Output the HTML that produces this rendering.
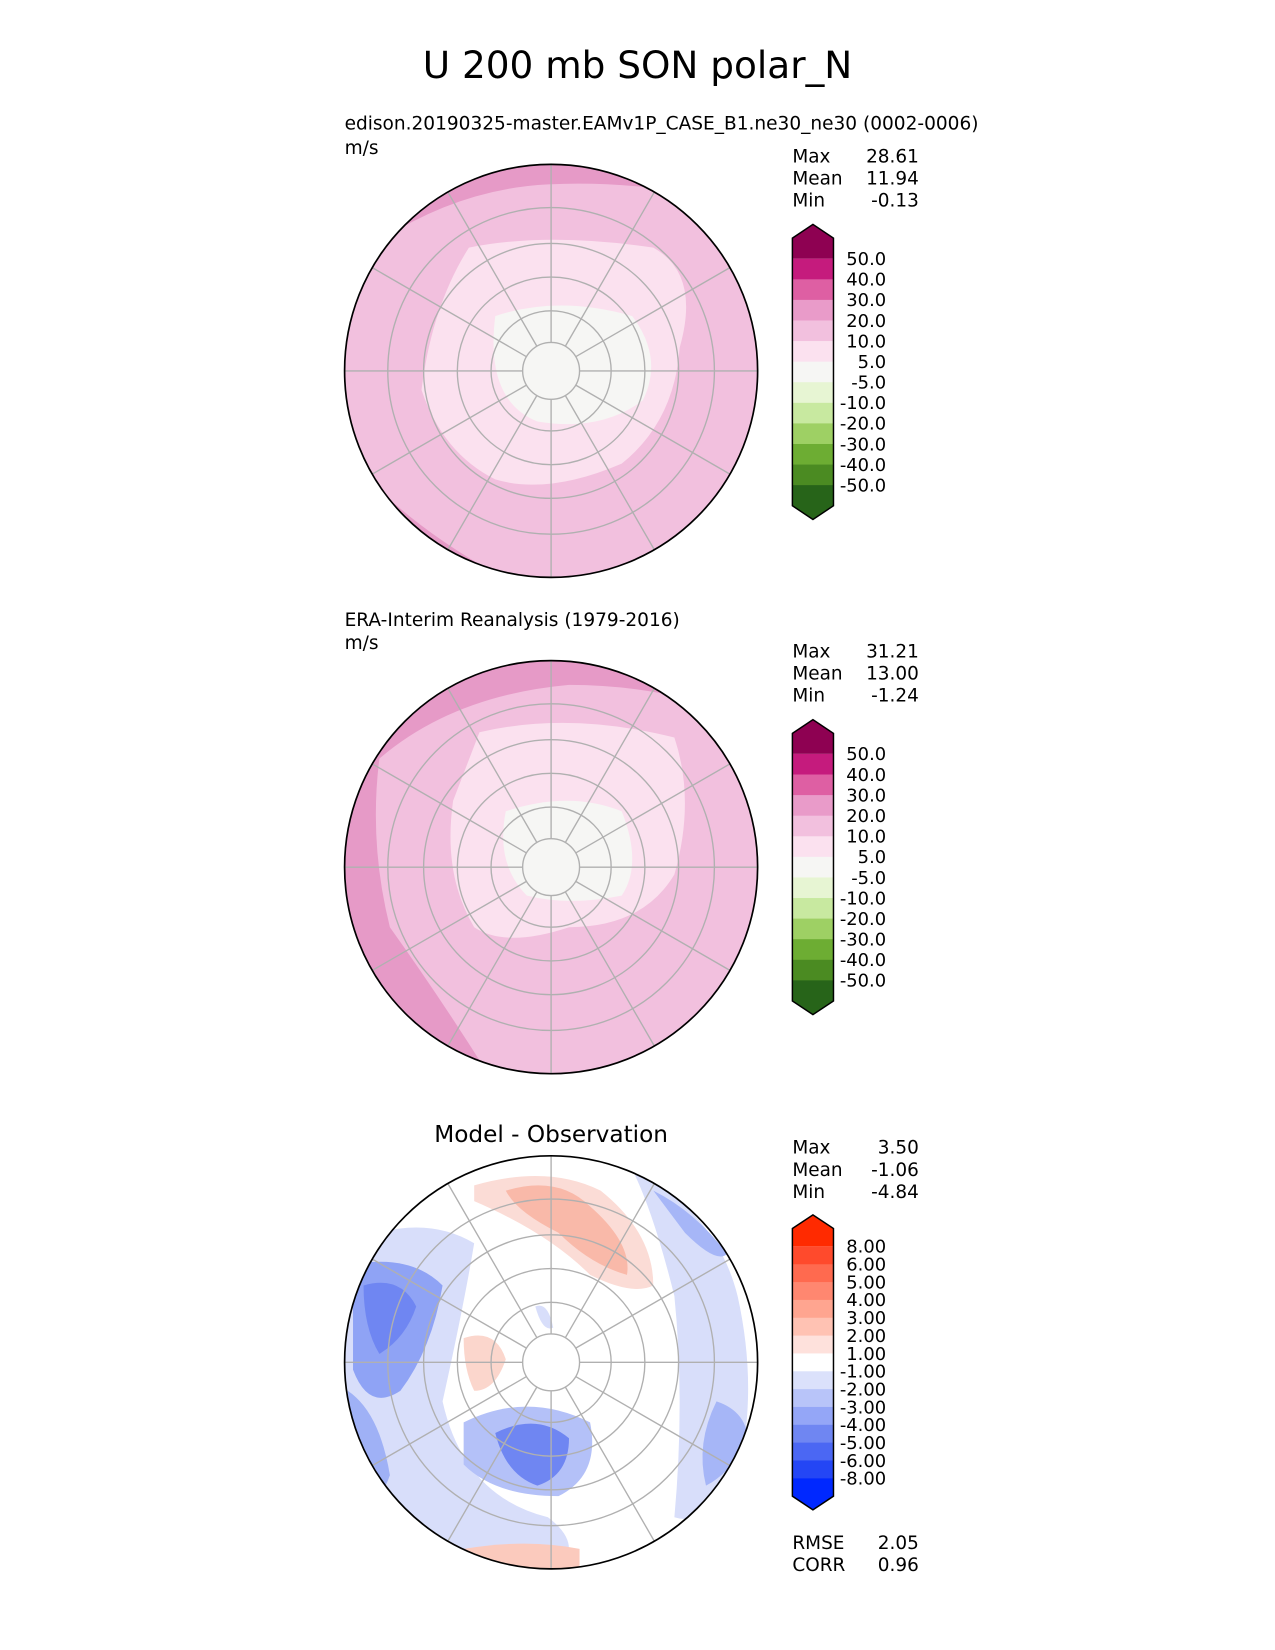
<!DOCTYPE html>
<html><head><meta charset="utf-8"><style>
html,body{margin:0;padding:0;background:#fff}
svg{display:block}
text{font-family:"DejaVu Sans","Liberation Sans",sans-serif;fill:#000}
</style></head><body>
<svg id="fig" width="1275" height="1650" viewBox="0 0 1210 1566" xmlns="http://www.w3.org/2000/svg">
<rect width="1210" height="1566" fill="#fff"/>
<text x="605" y="74" font-size="35.5" text-anchor="middle">U 200 mb SON polar_N</text>

<defs>
<clipPath id="c1"><circle cx="523" cy="352" r="196"/></clipPath>
<clipPath id="c2"><circle cx="523" cy="823" r="196"/></clipPath>
<clipPath id="c3"><circle cx="523" cy="1293" r="196"/></clipPath>
</defs>

<!-- Panel 1 -->
<g clip-path="url(#c1)">
<rect x="320" y="150" width="410" height="410" fill="#f2c0de"/>
<path d="M320 150 L730 150 L730 200 Q620 170 520 175 Q420 180 330 250 Z" fill="#e69ac7"/>
<path d="M320 420 Q380 500 500 560 L320 560 Z" fill="#e69ac7"/>
<path d="M445 235 Q520 220 620 235 Q665 260 645 330 Q640 400 590 440 Q520 470 470 455 Q420 430 400 370 Q410 290 445 235 Z" fill="#fbe1ef"/>
<path d="M470 300 Q530 280 600 300 Q630 340 610 380 Q570 410 510 400 Q460 380 470 300 Z" fill="#f6f6f4"/>
</g>
<g clip-path="url(#c1)" fill="none" stroke="#b0b0b0" stroke-width="1.3" id="g1"></g>
<circle cx="523" cy="352" r="196" fill="none" stroke="#000" stroke-width="1.6"/>
<text x="327" y="123" font-size="17.6">edison.20190325-master.EAMv1P_CASE_B1.ne30_ne30 (0002-0006)</text>
<text x="327" y="146" font-size="17.6">m/s</text>
<g font-size="17.5">
<text x="752" y="154">Max</text><text x="872" y="154" text-anchor="end">28.61</text>
<text x="752" y="175">Mean</text><text x="872" y="175" text-anchor="end">11.94</text>
<text x="752" y="196">Min</text><text x="872" y="196" text-anchor="end">-0.13</text>
</g>
<g id="cb1"></g>

<!-- Panel 2 -->
<g clip-path="url(#c2)">
<rect x="320" y="620" width="410" height="410" fill="#f2c0de"/>
<path d="M320 620 L730 620 L730 690 Q640 650 540 650 Q430 660 360 720 Q350 800 370 880 Q420 950 470 1030 L320 1030 Z" fill="#e69ac7"/>
<path d="M455 695 Q540 675 640 700 Q660 760 640 830 Q610 880 540 880 Q480 900 450 880 Q420 830 430 760 Z" fill="#fbe1ef"/>
<path d="M480 770 Q540 750 590 770 Q610 820 590 850 Q540 860 500 850 Q470 820 480 770 Z" fill="#f6f6f4"/>
</g>
<g clip-path="url(#c2)" fill="none" stroke="#b0b0b0" stroke-width="1.3" id="g2"></g>
<circle cx="523" cy="823" r="196" fill="none" stroke="#000" stroke-width="1.6"/>
<text x="327" y="594" font-size="17.6">ERA-Interim Reanalysis (1979-2016)</text>
<text x="327" y="616" font-size="17.6">m/s</text>
<g font-size="17.5">
<text x="752" y="624">Max</text><text x="872" y="624" text-anchor="end">31.21</text>
<text x="752" y="645">Mean</text><text x="872" y="645" text-anchor="end">13.00</text>
<text x="752" y="666">Min</text><text x="872" y="666" text-anchor="end">-1.24</text>
</g>
<g id="cb2"></g>

<!-- Panel 3 -->
<g clip-path="url(#c3)">
<rect x="320" y="1090" width="410" height="410" fill="#fff"/>
<path d="M330 1180 Q400 1150 450 1180 Q440 1240 420 1330 Q440 1420 520 1440 Q560 1470 520 1500 L320 1500 Z" fill="#d8defa"/>
<path d="M335 1200 Q390 1190 420 1220 Q410 1280 380 1320 Q350 1340 335 1300 Z" fill="#8fa3f5"/>
<path d="M345 1220 Q380 1210 395 1240 Q385 1270 360 1285 Q345 1260 345 1220 Z" fill="#6f86f2"/>
<path d="M330 1320 Q360 1340 370 1400 Q360 1430 340 1420 Z" fill="#9fb1f6"/>
<path d="M440 1350 Q500 1320 560 1350 Q570 1400 530 1420 Q470 1420 440 1390 Z" fill="#b4c1f8"/>
<path d="M470 1360 Q510 1340 540 1365 Q540 1400 510 1410 Q480 1400 470 1360 Z" fill="#6f86f2"/>
<path d="M600 1110 Q680 1150 700 1230 Q720 1320 700 1400 Q670 1450 640 1440 Q650 1330 640 1230 Q620 1150 600 1110 Z" fill="#d8defa"/>
<path d="M680 1330 Q710 1340 710 1370 Q690 1400 670 1410 Q660 1370 680 1330 Z" fill="#a6b6f7"/>
<path d="M620 1130 Q660 1150 690 1190 Q680 1200 650 1170 Z" fill="#a6b6f7"/>
<path d="M450 1125 Q520 1105 570 1130 Q620 1170 620 1220 Q600 1230 560 1210 Q520 1170 450 1140 Z" fill="#fbdcd6"/>
<path d="M480 1130 Q530 1115 560 1145 Q600 1180 595 1210 Q560 1200 530 1170 Q490 1150 480 1130 Z" fill="#f9b9a9"/>
<path d="M440 1270 Q470 1260 480 1290 Q470 1320 450 1320 Q440 1300 440 1270 Z" fill="#fbd6cc"/>
<path d="M440 1470 Q500 1460 550 1470 L550 1500 L440 1500 Z" fill="#fbcabd"/>
<path d="M508 1240 Q520 1235 525 1260 Q515 1265 508 1240 Z" fill="#d8defa"/>
</g>
<g clip-path="url(#c3)" fill="none" stroke="#b0b0b0" stroke-width="1.3" id="g3"></g>
<circle cx="523" cy="1293" r="196" fill="none" stroke="#000" stroke-width="1.6"/>
<text x="523" y="1084" font-size="22" text-anchor="middle">Model - Observation</text>
<g font-size="17.5">
<text x="752" y="1095">Max</text><text x="872" y="1095" text-anchor="end">3.50</text>
<text x="752" y="1116">Mean</text><text x="872" y="1116" text-anchor="end">-1.06</text>
<text x="752" y="1137">Min</text><text x="872" y="1137" text-anchor="end">-4.84</text>
<text x="752" y="1470">RMSE</text><text x="872" y="1470" text-anchor="end">2.05</text>
<text x="752" y="1491">CORR</text><text x="872" y="1491" text-anchor="end">0.96</text>
</g>
<g id="cb3"></g>
</svg>
<script>
const fieldLevels = ["50.0","40.0","30.0","20.0","10.0","5.0","-5.0","-10.0","-20.0","-30.0","-40.0","-50.0"];
const fieldColors = ["#8e0152","#c51b7d","#de5fa3","#e99bc9","#f2c0de","#fbe1ef","#f6f6f4","#e7f5d3","#c8e9a0","#9ed064","#6dad33","#4b8b22","#276419"];
const diffLevels = ["8.00","6.00","5.00","4.00","3.00","2.00","1.00","-1.00","-2.00","-3.00","-4.00","-5.00","-6.00","-8.00"];
const diffColors = ["#ff2a00","#ff4a2c","#ff6a4f","#ff8770","#ffa590","#ffc2b3","#fee1dc","#ffffff","#dbe1fb","#b8c4f9","#94a6f7","#6f86f2","#4b67f3","#2446f5","#0028ff"];
const latRings = [27,57,89,121,155];
const lonAngles = [0,30,60,90,120,150,180,210,240,270,300,330];

const NS="http://www.w3.org/2000/svg";
function mk(t,a,p){const e=document.createElementNS(NS,t);for(const k in a)e.setAttribute(k,a[k]);p.appendChild(e);return e;}
function grat(id,cx,cy){
  const g=document.getElementById(id);
  latRings.forEach(r=>{const c=mk('circle',{cx:cx,cy:cy,r:r},g);
    
    });
  lonAngles.forEach(a=>{const t=a*Math.PI/180;
    const l=mk('line',{x1:cx+27*Math.sin(t),y1:cy-27*Math.cos(t),x2:cx+200*Math.sin(t),y2:cy-200*Math.cos(t)},g);
    
    });
}
grat('g1',523,352);grat('g2',523,823);grat('g3',523,1293);

function colorbar(id,top,bottom,levels,colors){
  const g=document.getElementById(id);
  const x0=752,x1=791,tri=13,n=levels.length-1;
  const y0=top+tri,y1=bottom-tri;
  const ys=i=>y0+(y1-y0)*i/(n+2);
  const te=mk('path',{d:`M${x0} ${ys(1)} L${x0} ${y0} L${(x0+x1)/2} ${top} L${x1} ${y0} L${x1} ${ys(1)} Z`,fill:colors[0]},g);
  
  
  for(let i=0;i<n;i++){
    const r=mk('rect',{x:x0,y:ys(i+1),width:x1-x0,height:ys(i+2)-ys(i+1)+0.5,fill:colors[i+1]},g);
    
    
  }
  const be=mk('path',{d:`M${x0} ${ys(n+1)} L${x0} ${y1} L${(x0+x1)/2} ${bottom} L${x1} ${y1} L${x1} ${ys(n+1)} Z`,fill:colors[n+1]},g);
  
  
  const o=mk('path',{d:`M${x0} ${y0} L${(x0+x1)/2} ${top} L${x1} ${y0} L${x1} ${y1} L${(x0+x1)/2} ${bottom} L${x0} ${y1} Z`,fill:'none',stroke:'#000','stroke-width':1.4},g);
  
  
  levels.forEach((lv,i)=>{
    const t=mk('text',{x:841,y:ys(i+1)+6,'font-size':17,'text-anchor':'end'},g);
    t.textContent=lv;
    
    
  });
}
colorbar('cb1',213,493,fieldLevels,fieldColors);
colorbar('cb2',683,963,fieldLevels,fieldColors);
colorbar('cb3',1153,1433,diffLevels,diffColors);
</script>
</body></html>
